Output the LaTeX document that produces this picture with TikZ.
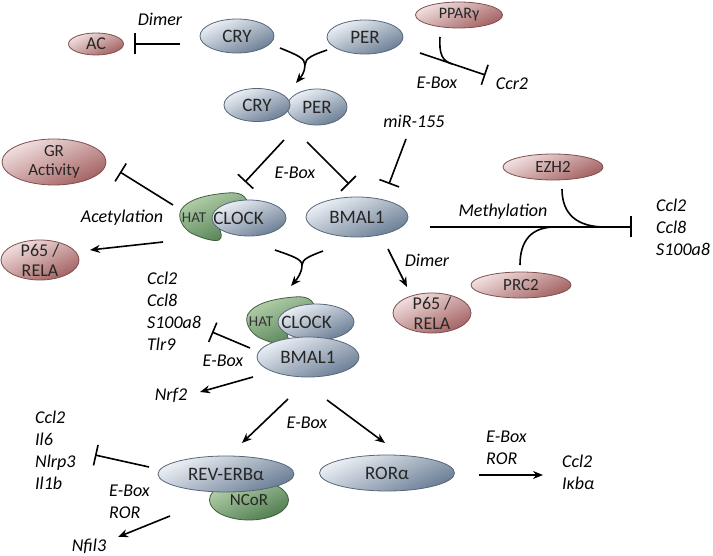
\documentclass[tikz,border=0pt]{standalone}
\usepackage{fontspec}
\setmainfont{Carlito}
\usetikzlibrary{arrows.meta,positioning,shapes.geometric}

\definecolor{protlight}{HTML}{EEF2F7}
\definecolor{protdark}{HTML}{6A7D94}
\definecolor{protline}{HTML}{56677A}
\definecolor{tgtlight}{HTML}{F3E2E2}
\definecolor{tgtdark}{HTML}{A36060}
\definecolor{tgtline}{HTML}{7F4F4F}
\definecolor{coflight}{HTML}{B8D3AF}
\definecolor{cofdark}{HTML}{4F7D4F}
\definecolor{cofline}{HTML}{3D5F3D}

\tikzset{
  prot/.style={ellipse, draw=protline, line width=0.8pt, inner sep=-6pt, text=black!85,
    top color=protlight, bottom color=protdark, shading angle=25,
    font=\fontsize{19}{22}\selectfont},
  tgt/.style={ellipse, draw=tgtline, line width=0.8pt, inner sep=-6pt, text=black!85,
    top color=tgtlight, bottom color=tgtdark, shading angle=25,
    font=\fontsize{17}{19}\selectfont},
  cof/.style={ellipse, draw=cofline, line width=0.8pt, inner sep=-6pt, text=black!85,
    top color=coflight, bottom color=cofdark, shading angle=25,
    font=\fontsize{17}{19}\selectfont},
  lbl/.style={font=\fontsize{18}{22}\selectfont\itshape, inner sep=0pt},
  genes/.style={lbl, align=left, anchor=west},
  plain/.style={line width=1.6pt},
  act/.style={line width=1.6pt, -{Stealth[length=10pt,width=8pt]}},
  inh/.style={line width=1.6pt, -{Bar[width=21pt]}},
  hatleaf/.pic={
    \draw[draw=cofline, line width=0.8pt, top color=coflight, bottom color=cofdark, shading angle=25]
      (0,-10) .. controls (-2,-24) and (-10,-26) .. (-22,-25)
      .. controls (-45,-23) and (-62,-18) .. (-68,-8)
      .. controls (-72,0) and (-66,10) .. (-58,15)
      .. controls (-48,20) and (-35,24) .. (-30,22)
      .. controls (-26,20) and (-28,14) .. (-30,10) -- cycle;
    \node[font=\fontsize{15}{16}\selectfont, text=black!80, inner sep=0pt] (-txt) at (-55,0) {HAT};
  }
}

\begin{document}
\begin{tikzpicture}[x=1pt, y=-1pt, font=\fontsize{18}{22}\selectfont]
\useasboundingbox (0,0) rectangle (713,556);

% top row
\node[tgt, minimum width=55pt, minimum height=22pt, font=\fontsize{18}{20}\selectfont] (ac) at (96,44) {AC};
\node[prot, minimum width=74pt, minimum height=34pt] (cry) at (237,36) {CRY};
\node[prot, minimum width=76pt, minimum height=34pt] (per) at (365,37) {PER};
\node[tgt, minimum width=87pt, minimum height=26pt, font=\fontsize{16}{18}\selectfont] (ppar) at (459,15) {PPARγ};
\node[lbl] (dimerA) at (160,19) {Dimer};
\node[lbl] (eboxA) at (437,83) {E-Box};
\node[lbl] (ccr) at (512,84) {Ccr2};

% CRY/PER complex
\node[prot, minimum width=60pt, minimum height=36pt] (perB) at (317,107) {PER};
\node[prot, minimum width=66pt, minimum height=33pt] (cryB) at (257,105) {CRY};
\node[lbl] (mir) at (414,121) {miR-155};
\node[lbl] (eboxB) at (295,173) {E-Box};

% CLOCK and BMAL1
\node[tgt, minimum width=104pt, minimum height=46pt, align=center] (gr) at (54,162) {GR\\Activity};
\pic (hatA) at (249,218) {hatleaf};
\node[prot, minimum width=74pt, minimum height=36pt] (clock) at (249,218) {\makebox[0pt]{CLOCK\hspace{21pt}}};
\node[prot, minimum width=102pt, minimum height=40pt] (bmal) at (357,217) {BMAL1};
\node[lbl] (acet) at (122,218) {Acetylation};
\node[tgt, minimum width=78pt, minimum height=40pt, align=center, font=\fontsize{18}{20}\selectfont] (relaL) at (40,260) {P65 /\\RELA};

% methylation
\node[tgt, minimum width=100pt, minimum height=26pt] (ezh) at (553,167) {EZH2};
\node[tgt, minimum width=100pt, minimum height=26pt] (prc) at (521,285) {PRC2};
\node[lbl] (meth) at (503,212) {Methylation};
\node[genes] (glR) at (656,227) {Ccl2\\Ccl8\\S100a8};
\node[lbl] (dimerB) at (427,260) {Dimer};
\node[tgt, minimum width=78pt, minimum height=40pt, align=center, font=\fontsize{18}{20}\selectfont] (relaR) at (432,313) {P65 /\\RELA};

% CLOCK/BMAL1 complex
\pic (hatB) at (316,322) {hatleaf};
\node[prot, minimum width=76pt, minimum height=36pt] (clockB) at (316,322) {\makebox[0pt]{CLOCK\hspace{19pt}}};
\node[prot, minimum width=102pt, minimum height=40pt] (bmalB) at (308,357) {BMAL1};
\node[genes] (glA) at (147,311) {Ccl2\\Ccl8\\S100a8\\Tlr9};
\node[lbl] (eboxC) at (223,361) {E-Box};
\node[lbl] (nrf) at (171,395) {Nrf2};
\node[lbl] (eboxD) at (307,423) {E-Box};

% REV-ERB and ROR
\node[cof, minimum width=79pt, minimum height=40pt] (ncor) at (249,500) {NCoR};
\node[prot, minimum width=136pt, minimum height=36pt] (rev) at (226,474) {REV-ERBα};
\node[prot, minimum width=135pt, minimum height=36pt] (ror) at (387,473) {RORα};
\node[genes] (glB) at (35,450) {Ccl2\\Il6\\Nlrp3\\Il1b};
\node[genes] (rorA) at (109,502) {E-Box\\ROR};
\node[lbl] (nfil) at (89,546) {Nfil3};
\node[genes] (rorB) at (486,448) {E-Box\\ROR};
\node[genes] (glC) at (562,472) {Ccl2\\Iκbα};

% free ends
\coordinate (acS) at (180,44);
\coordinate (mA1) at (280,48);
\coordinate (mA2) at (327,50);
\coordinate (mA) at (305,65);
\coordinate (mAe) at (296,83);
\coordinate (ppS) at (420,53);
\coordinate (ppC) at (440,37);
\coordinate (ppJ) at (452,64);
\coordinate (cpL) at (284,140);
\coordinate (ckT) at (245,182);
\coordinate (cpR) at (307,142);
\coordinate (bmT) at (349,184);
\coordinate (mirS) at (406,139);
\coordinate (mirE) at (389,184);
\coordinate (grS) at (173,205);
\coordinate (grE) at (120,172);
\coordinate (rlS) at (163,242);
\coordinate (rlE) at (90,250);
\coordinate (mB1) at (275,250);
\coordinate (mB2) at (323,251);
\coordinate (mB) at (302,265);
\coordinate (mBe) at (291,286);
\coordinate (meS) at (430,227);
\coordinate (meE) at (632,227);
\coordinate (ezS) at (562,189);
\coordinate (ezJ) at (605,227);
\coordinate (prS) at (520,265);
\coordinate (prJ) at (555,227);
\coordinate (drS) at (388,249);
\coordinate (drE) at (407,287);
\coordinate (glS) at (250,348);
\coordinate (glE) at (212,332);
\coordinate (nrS) at (253,377);
\coordinate (nrE) at (200,392);
\coordinate (rvS) at (288,399);
\coordinate (rvE) at (242,443);
\coordinate (roS) at (327,400);
\coordinate (roE) at (385,443);
\coordinate (gbS) at (149,467);
\coordinate (gbE) at (95,455);
\coordinate (nfS) at (170,516);
\coordinate (nfE) at (118,537);
\coordinate (rcS) at (479,475);
\coordinate (rcE) at (543,475);

% connectors
\draw[inh, shorten >=10pt] (acS) -- (ac);
\draw[plain] (mA1) .. controls (297,55) and (305,58) .. (mA);
\draw[plain] (mA2) .. controls (313,55) and (305,58) .. (mA);
\draw[act] (mA) .. controls (305,72) and (301,77) .. (mAe);
\draw[inh, shorten >=28pt] (ppS) -- (ccr.center);
\draw[plain] (ppC) .. controls (439,54) and (442,60.6) .. (ppJ);
\draw[inh] (cpL) -- (ckT);
\draw[inh] (cpR) -- (bmT);
\draw[inh] (mirS) -- (mirE);
\draw[inh] (grS) -- (grE);
\draw[act] (rlS) -- (rlE);
\draw[plain] (mB1) .. controls (292,256) and (302,259) .. (mB);
\draw[plain] (mB2) .. controls (310,256) and (302,259) .. (mB);
\draw[act] (mB) .. controls (302,273) and (297,279) .. (mBe);
\draw[inh] (meS) -- (meE);
\draw[plain] (ezS) .. controls (562,215) and (578,227) .. (ezJ);
\draw[plain] (prS) .. controls (520,240) and (532,227) .. (prJ);
\draw[act] (drS) -- (drE);
\draw[inh] (glS) -- (glE);
\draw[act] (nrS) -- (nrE);
\draw[act] (rvS) -- (rvE);
\draw[act] (roS) -- (roE);
\draw[inh] (gbS) -- (gbE);
\draw[act] (nfS) -- (nfE);
\draw[act] (rcS) -- (rcE);
\end{tikzpicture}
\end{document}
